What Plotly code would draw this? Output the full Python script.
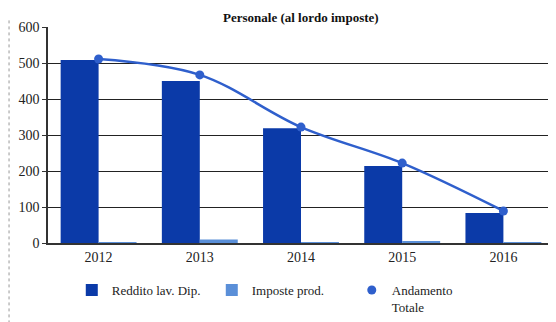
import plotly.graph_objects as go

anni = ["2012", "2013", "2014", "2015", "2016"]
reddito = [508, 450, 319, 214, 83]
imposte = [2, 10, 2, 4, 2]
totale = [511, 467, 322, 222, 89]

serif = "Liberation Serif, Times New Roman, serif"
blu_scuro = "#0b3aa8"
blu_chiaro = "#5a8fd8"
blu_linea = "#2f5fcc"

fig = go.Figure()
fig.add_trace(go.Bar(x=anni, y=reddito, name="Reddito lav. Dip.",
                     marker=dict(color=blu_scuro, line=dict(width=0))))
fig.add_trace(go.Bar(x=anni, y=imposte, name="Imposte prod.",
                     marker=dict(color=blu_chiaro, line=dict(width=0))))
fig.add_trace(go.Scatter(x=anni, y=totale, name="Andamento<br>Totale",
                         mode="lines+markers", showlegend=False,
                         line=dict(color=blu_linea, width=2.5, shape="spline"),
                         marker=dict(size=9, color=blu_linea)))
# legend entry for the line: marker only, as in the original
fig.add_trace(go.Scatter(x=[None], y=[None], name="Andamento<br>Totale",
                         mode="markers", marker=dict(size=9, color=blu_linea)))

# the page body adds ~8px of margin, so the figure is a bit smaller than the window
fig.update_layout(
    width=548, height=314,
    margin=dict(l=40, r=0, t=19, b=79),
    paper_bgcolor="white", plot_bgcolor="white",
    font=dict(family=serif, size=13, color="#222"),
    barmode="group", bargap=0.25, bargroupgap=0,
    showlegend=True,
    legend=dict(orientation="h", x=0.047, y=-0.15, xanchor="left", yanchor="top",
                font=dict(family=serif, size=13), itemwidth=30,
                entrywidth=95, traceorder="normal", valign="top"),
)
# title as an annotation, just above the plot frame
fig.add_annotation(text="<b>Personale (al lordo imposte)</b>", xref="paper", yref="paper",
                   x=0.5, y=1.045, xanchor="center", yanchor="middle", showarrow=False,
                   font=dict(family=serif, size=13, color="#111"))
fig.update_xaxes(range=[-0.5, 4.5], showline=True, linecolor="#333", linewidth=1.5,
                 ticks="", tickfont=dict(family=serif, size=14))
fig.update_yaxes(range=[0, 600], dtick=100, showgrid=True, gridcolor="#222",
                 gridwidth=1.2, zeroline=False, showline=True, linecolor="#333",
                 linewidth=1.5, mirror=True, ticks="outside", ticklen=4,
                 tickcolor="#333", tickfont=dict(family=serif, size=14))

# dotted scan border on the left of the chart
fig.add_shape(type="line", xref="paper", yref="paper", x0=-0.077, x1=-0.077,
              y0=-0.4, y1=1.04, line=dict(color="#999", width=1, dash="dot"))

fig.write_html("out.html")
